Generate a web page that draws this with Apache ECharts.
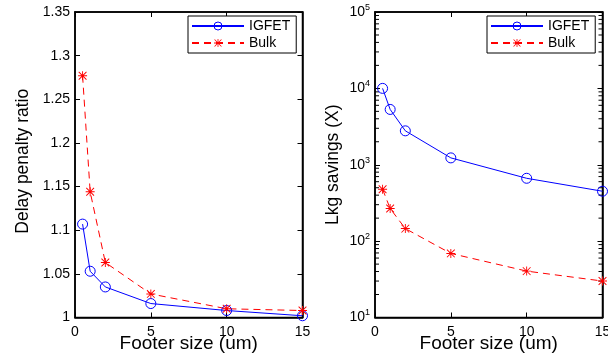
<!DOCTYPE html>
<html>
<head>
<meta charset="utf-8">
<script src="https://cdn.jsdelivr.net/npm/echarts@6/dist/echarts.min.js"></script>
<style>
  html, body { margin: 0; padding: 0; background: #fff; }
  #chart { width: 608px; height: 356px; }
</style>
</head>
<body>
<div id="chart"></div>
<script>
// Footer sizes (um) shared by both panels
const footerSize = [0.5, 1, 2, 5, 10, 15];
// Delay penalty ratio
const delayIGFET = [1.107, 1.053, 1.035, 1.016, 1.008, 1.002];
const delayBulk  = [1.277, 1.144, 1.063, 1.027, 1.010, 1.008];
// Leakage savings (X)
const lkgIGFET = [10000, 5300, 2780, 1230, 665, 450];
const lkgBulk  = [478, 267, 146, 69, 40.5, 30];
// Tick values
const xTicks = [0, 5, 10, 15];
const delayTicks = [1, 1.05, 1.1, 1.15, 1.2, 1.25, 1.3, 1.35];
const lkgDecades = [10, 100, 1000, 10000, 100000];

const FONT = "'Liberation Sans', Arial, Helvetica, sans-serif";
const BLUE = '#0000ff';
const RED = '#ff0000';
// asterisk marker built from four thin bars
const STAR = 'path://M9,0L11,0L11,20L9,20Z M0,9L20,9L20,11L0,11Z M2.1,0.7L19.3,17.9L17.9,19.3L0.7,2.1Z M17.9,0.7L19.3,2.1L2.1,19.3L0.7,17.9Z';

const pair = (xs, ys) => xs.map((x, i) => [x, ys[i]]);

const axisLine = { show: true, onZero: false, lineStyle: { color: '#000', width: 1.5 } };
const tickIn = { show: true, inside: true, length: 5, lineStyle: { color: '#000', width: 1 } };
const label = { color: '#000', fontFamily: FONT, fontSize: 14 };

function xAxes(gridIndex) {
  const base = { type: 'value', gridIndex, min: xTicks[0], max: xTicks[xTicks.length - 1], interval: 5, splitLine: { show: false }, axisLine, axisTick: tickIn };
  return [
    Object.assign({}, base, {
      position: 'bottom',
      axisLabel: Object.assign({ margin: 8 }, label),
      name: 'Footer size (um)', nameLocation: 'middle', nameGap: 16.5, nameMoveOverlap: false,
      nameTextStyle: { color: '#000', fontFamily: FONT, fontSize: 19 }
    }),
    Object.assign({}, base, { position: 'top', axisLabel: { show: false } })
  ];
}

const superRich = {
  b: { color: '#000', fontFamily: FONT, fontSize: 14 },
  s: { color: '#000', fontFamily: FONT, fontSize: 9, padding: [0, 0, 9, 0] }
};

const circleStyle = { color: 'rgba(0,0,0,0)', borderColor: BLUE, borderWidth: 1 };

const gridBase = { top: 12, bottom: 38.5, show: true, borderColor: '#000', borderWidth: 1.5, containLabel: false, outerBoundsMode: 'none' };

const option = {
  animation: false,
  backgroundColor: '#fff',
  textStyle: { fontFamily: FONT },
  grid: [
    Object.assign({ left: 75, right: 305.5 }, gridBase),
    Object.assign({ left: 375, right: 5.5 }, gridBase)
  ],
  xAxis: [].concat(xAxes(0), xAxes(1)),
  yAxis: [
    {
      type: 'value', gridIndex: 0, position: 'left',
      min: delayTicks[0], max: delayTicks[delayTicks.length - 1], interval: 0.05,
      splitLine: { show: false }, axisLine, axisTick: tickIn,
      axisLabel: Object.assign({ margin: 5, formatter: v => String(+v.toFixed(2)) }, label),
      name: 'Delay penalty ratio', nameLocation: 'middle', nameGap: 43, nameMoveOverlap: false,
      nameTextStyle: { color: '#000', fontFamily: FONT, fontSize: 17.5, padding: [0, 0, 0, 7] }
    },
    {
      type: 'value', gridIndex: 0, position: 'right',
      min: delayTicks[0], max: delayTicks[delayTicks.length - 1], interval: 0.05,
      splitLine: { show: false }, axisLine, axisTick: tickIn, axisLabel: { show: false }
    },
    {
      type: 'log', logBase: 10, gridIndex: 1, position: 'left',
      min: lkgDecades[0], max: lkgDecades[lkgDecades.length - 1],
      splitLine: { show: false }, axisLine, axisTick: tickIn,
      axisLabel: {
        margin: 5,
        formatter: v => '{b|10}{s|' + Math.round(Math.log10(v)) + '}',
        rich: superRich
      },
      name: 'Lkg savings (X)', nameLocation: 'middle', nameGap: 33, nameMoveOverlap: false,
      nameTextStyle: { color: '#000', fontFamily: FONT, fontSize: 17.5 }
    },
    {
      type: 'log', logBase: 10, gridIndex: 1, position: 'right',
      min: lkgDecades[0], max: lkgDecades[lkgDecades.length - 1],
      splitLine: { show: false }, axisLine, axisTick: tickIn, axisLabel: { show: false }
    }
  ],
  legend: [0, 1].map(i => ({
    orient: 'vertical',
    left: i === 0 ? 188 : 487,
    top: 16,
    padding: [3, 6, 3, 3],
    itemGap: 3,
    itemWidth: 52,
    itemHeight: 10,
    borderColor: '#000',
    borderWidth: 1,
    backgroundColor: '#fff',
    itemStyle: { borderWidth: 1 },
    textStyle: { color: '#000', fontFamily: FONT, fontSize: 14 },
    data: ['IGFET', 'Bulk']
  })),
  series: [
    {
      name: 'IGFET', type: 'line', xAxisIndex: 0, yAxisIndex: 0,
      data: pair(footerSize, delayIGFET),
      symbol: 'circle', symbolSize: 10,
      lineStyle: { color: BLUE, width: 1 },
      itemStyle: circleStyle
    },
    {
      name: 'Bulk', type: 'line', xAxisIndex: 0, yAxisIndex: 0,
      data: pair(footerSize, delayBulk),
      symbol: STAR, symbolSize: 9,
      lineStyle: { color: RED, width: 1, type: [7, 5] },
      itemStyle: { color: RED }
    },
    {
      name: 'IGFET', type: 'line', xAxisIndex: 2, yAxisIndex: 2,
      data: pair(footerSize, lkgIGFET),
      symbol: 'circle', symbolSize: 10,
      lineStyle: { color: BLUE, width: 1 },
      itemStyle: circleStyle
    },
    {
      name: 'Bulk', type: 'line', xAxisIndex: 2, yAxisIndex: 2,
      data: pair(footerSize, lkgBulk),
      symbol: STAR, symbolSize: 9,
      lineStyle: { color: RED, width: 1, type: [7, 5] },
      itemStyle: { color: RED }
    }
  ]
};

const chart = echarts.init(document.getElementById('chart'), null, { renderer: 'canvas' });
chart.setOption(option);

// Minor log ticks (2..9 within each decade) on both sides of the right panel
(function addMinorTicks() {
  const els = [];
  const xl = chart.convertToPixel({ xAxisIndex: 2 }, 0);
  const xr = chart.convertToPixel({ xAxisIndex: 2 }, 15);
  for (let d = 0; d < lkgDecades.length - 1; d++) {
    for (let m = 2; m <= 9; m++) {
      const y = chart.convertToPixel({ yAxisIndex: 2 }, lkgDecades[d] * m);
      els.push({ type: 'line', silent: true, shape: { x1: xl, y1: y, x2: xl + 4, y2: y }, style: { stroke: '#000', lineWidth: 1 } });
      els.push({ type: 'line', silent: true, shape: { x1: xr, y1: y, x2: xr - 4, y2: y }, style: { stroke: '#000', lineWidth: 1 } });
    }
  }
  chart.setOption({ graphic: els });
})();
</script>
</body>
</html>
